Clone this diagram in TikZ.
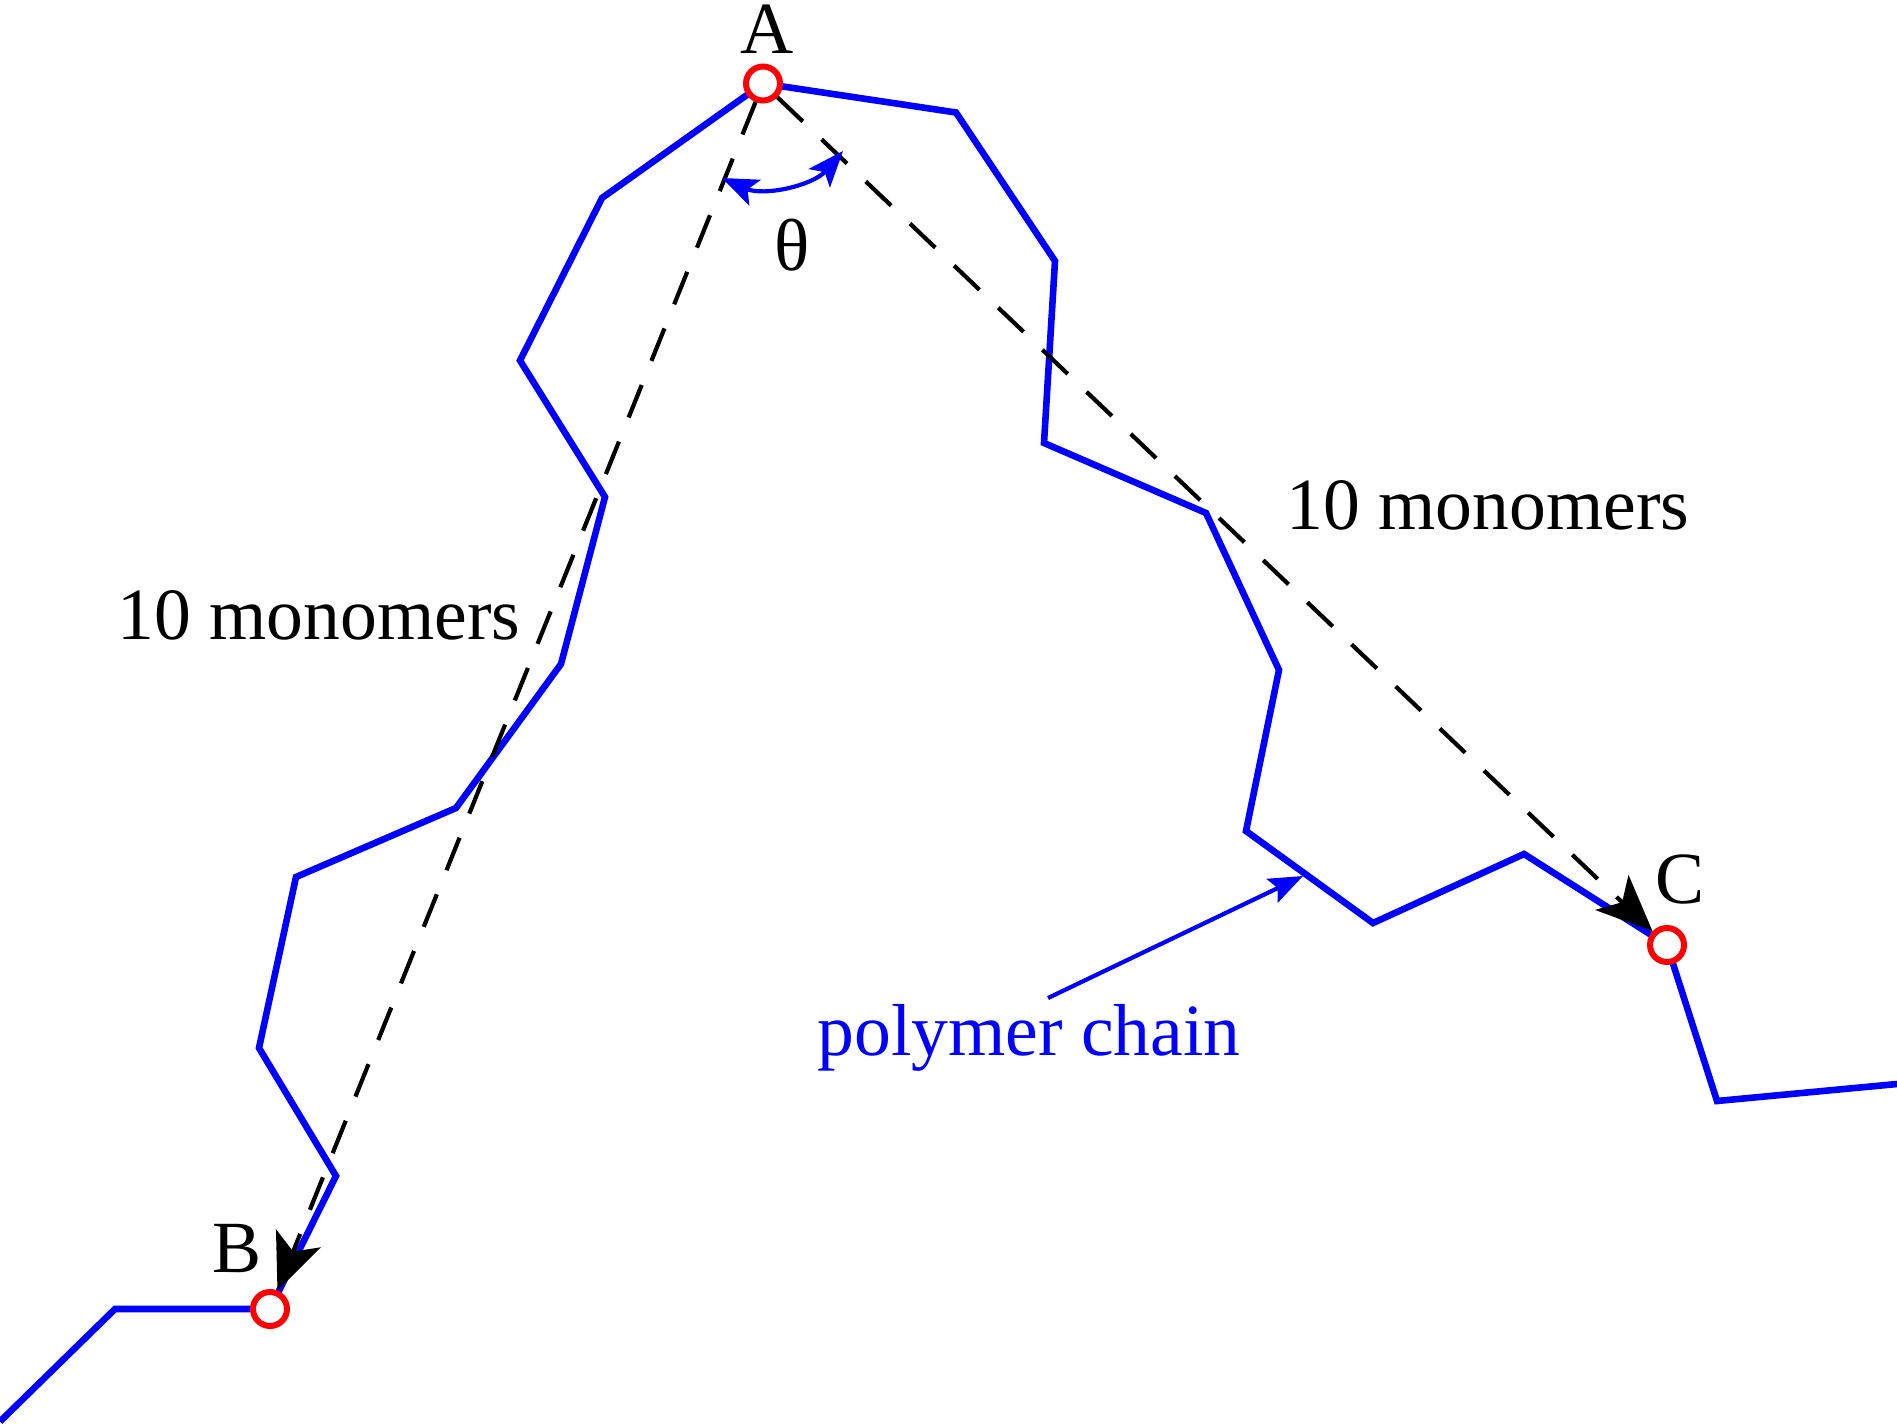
\documentclass[tikz,border=0pt]{standalone}
\usepackage{fontspec}
\setmainfont{Liberation Serif}
\usetikzlibrary{arrows.meta}
\definecolor{chainblue}{RGB}{0,0,255}
\definecolor{sitered}{RGB}{255,0,0}
\begin{document}
\begin{tikzpicture}[x=0.5pt,y=-0.5pt,
  chain/.style={draw=chainblue, line width=3.3pt, line join=miter},
  site/.style={circle, draw=sitered, line width=3pt, fill=white, minimum size=17pt, inner sep=0pt},
  dist/.style={dash pattern=on 17.5pt off 13pt, line width=2.1pt, -{Stealth[length=28pt,width=24pt,inset=7pt]}},
  lbl/.style={inner sep=0pt, anchor=base, font=\fontsize{36.8}{40}\selectfont},
  pointer/.style={draw=chainblue, line width=2.1pt, -{Stealth[length=17pt,width=13pt,inset=3pt]}},
  anglearrow/.style={draw=chainblue, line width=2.1pt, {Stealth[length=18pt,width=14pt,inset=4pt]}-{Stealth[length=18pt,width=14pt,inset=4pt]}},
]
\useasboundingbox (0,0) rectangle (1897,1424);
% chain vertices
\coordinate (p0) at (0,1421.5);
\coordinate (p1) at (115,1309);
\coordinate (pB) at (270,1309);
\coordinate (p2) at (336,1176);
\coordinate (p3) at (259,1048);
\coordinate (p4) at (296,877);
\coordinate (p5) at (456,808);
\coordinate (p6) at (561,664);
\coordinate (p7) at (605,497);
\coordinate (p8) at (520,360.5);
\coordinate (p9) at (602,198);
\coordinate (pA) at (763,83.5);
\coordinate (q1) at (956,112.5);
\coordinate (q2) at (1055,261);
\coordinate (q3) at (1044,443);
\coordinate (q4) at (1206,513);
\coordinate (q5) at (1279,670);
\coordinate (q6) at (1246,831);
\coordinate (q7) at (1373,923);
\coordinate (q8) at (1524,854);
\coordinate (pC) at (1667,945);
\coordinate (q9) at (1717,1101);
\coordinate (q10) at (1897,1084);

\draw[chain] (p0) -- (p1) -- (pB) -- (p2) -- (p3) -- (p4) -- (p5) -- (p6) -- (p7) -- (p8) -- (p9) -- (pA)
  -- (q1) -- (q2) -- (q3) -- (q4) -- (q5) -- (q6) -- (q7) -- (q8) -- (pC) -- (q9) -- (q10);

\node[site] (A) at (pA) {};
\node[site] (B) at (pB) {};
\node[site] (C) at (pC) {};

\draw[dist] (A) -- (B);
\draw[dist] (A) -- (C);

% angle theta
\coordinate (t1) at (722,178);
\coordinate (t2) at (843,151);
\draw[anglearrow] (t1) .. controls (763.8,196.6) and (813,185.5) .. (t2);

% pointer to chain
\coordinate (ps) at (1048,998);
\coordinate (pe) at (1303,876);
\draw[pointer] (ps) -- (pe);

% labels
\node[lbl] (lA) at (767,54) {A};
\node[lbl] (lB) at (237,1272) {B};
\node[lbl] (lC) at (1680,903) {C};
\node[lbl] (lth) at (792,270) {θ};
\node[lbl] (m1) at (319,639) {10 monomers};
\node[lbl] (m2) at (1488,529) {10 monomers};
\node[lbl, text=chainblue] (pc) at (1029,1055) {polymer chain};
\end{tikzpicture}
\end{document}
